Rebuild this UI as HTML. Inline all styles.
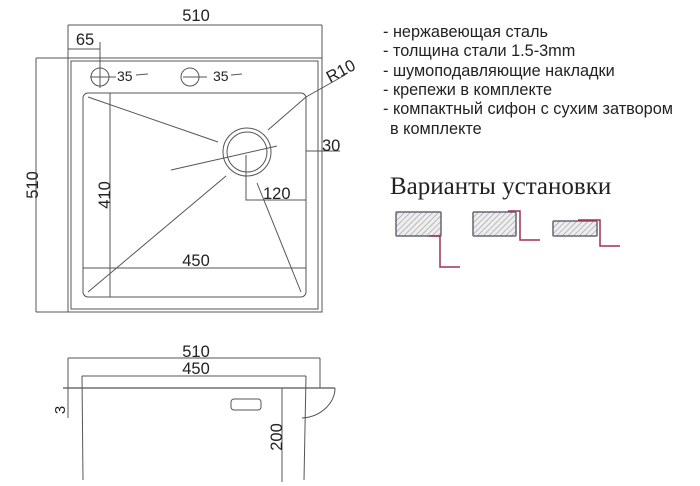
<!DOCTYPE html>
<html><head><meta charset="utf-8"><style>
html,body{margin:0;padding:0;background:#fff;}
svg{display:block}
</style></head><body>
<svg width="700" height="486" viewBox="0 0 700 486" xmlns="http://www.w3.org/2000/svg" font-family="Liberation Sans, sans-serif">
<g stroke="#555" stroke-width="1" fill="none">
<line x1="68" y1="25" x2="322" y2="25"/>
<line x1="68" y1="25" x2="68" y2="312"/>
<line x1="322" y1="25" x2="322" y2="312"/>
<line x1="36" y1="58" x2="36" y2="312"/>
<line x1="36" y1="58" x2="68" y2="58"/>
<line x1="36" y1="312" x2="68" y2="312"/>
<rect x="68" y="58" width="254" height="254"/>
<rect x="71" y="61" width="247" height="248"/>
<rect x="83" y="93" width="223" height="204" rx="5"/>
<line x1="68" y1="49" x2="100" y2="49"/>
<line x1="100" y1="42" x2="100" y2="88"/>
<circle cx="100" cy="77" r="9"/>
<circle cx="190" cy="77" r="9"/>
<line x1="90" y1="77" x2="116" y2="77"/>
<line x1="183" y1="77" x2="207" y2="77"/>
<line x1="136" y1="75" x2="148" y2="74"/>
<line x1="231" y1="75" x2="242" y2="74"/>
<line x1="110" y1="93" x2="110" y2="297"/>
<line x1="83" y1="268" x2="306" y2="268"/>
<circle cx="247" cy="152" r="24"/>
<circle cx="247" cy="152" r="20"/>
<line x1="88" y1="97" x2="218" y2="142"/>
<line x1="171" y1="170" x2="277" y2="146"/>
<line x1="88" y1="292" x2="226" y2="176"/>
<line x1="257" y1="183" x2="301" y2="292"/>
<polyline points="268,130 306,97 345,75"/>
<line x1="306" y1="151" x2="340" y2="151"/>
<polyline points="246,155 246,200 306,200"/>
<line x1="68" y1="358" x2="320" y2="358"/>
<line x1="68" y1="358" x2="68" y2="388"/>
<line x1="320" y1="358" x2="320" y2="388"/>
<line x1="82" y1="376" x2="306" y2="376"/>
<line x1="82" y1="376" x2="83" y2="480"/>
<line x1="306" y1="376" x2="304" y2="480"/>
<line x1="63" y1="388" x2="335" y2="388" stroke-width="1.3"/>
<line x1="282" y1="388" x2="282" y2="482"/>
<rect x="231" y="399" width="30" height="11" rx="3"/>
<path d="M335,388 C335,402 322,417 302,418"/>
<line x1="68" y1="373" x2="68" y2="418"/>
</g>
<g fill="#222" font-size="16.5">
<text x="196" y="21" text-anchor="middle">510</text>
<text x="85" y="45" text-anchor="middle">65</text>
<text x="117" y="81" font-size="14">35</text>
<text x="213" y="81" font-size="14">35</text>
<text x="196" y="266" text-anchor="middle">450</text>
<text x="322" y="151">30</text>
<text x="263" y="199">120</text>
<text transform="translate(330,83) rotate(-28)">R10</text>
<text transform="translate(38,185) rotate(-90)" text-anchor="middle">510</text>
<text transform="translate(110,195) rotate(-90)" text-anchor="middle">410</text>
<text x="196" y="357" text-anchor="middle">510</text>
<text x="196" y="374" text-anchor="middle">450</text>
<text transform="translate(65,410) rotate(-90)" text-anchor="middle" font-size="15">3</text>
<text transform="translate(282,437) rotate(-90)" text-anchor="middle">200</text>
</g>
<g fill="#222" font-size="16.3">
<text x="383" y="37">- нержавеющая сталь</text>
<text x="383" y="56">- толщина стали 1.5-3mm</text>
<text x="383" y="76">- шумоподавляющие накладки</text>
<text x="383" y="95">- крепежи в комплекте</text>
<text x="383" y="114">- компактный сифон с сухим затвором</text>
<text x="390" y="134">в комплекте</text>
</g>
<text x="390" y="194" font-family="Liberation Serif, serif" font-size="25" fill="#222">Варианты установки</text>
<defs><pattern id="h" width="4" height="4" patternUnits="userSpaceOnUse" patternTransform="rotate(45)"><rect width="4" height="4" fill="#eee"/><line x1="0" y1="0" x2="0" y2="4" stroke="#999" stroke-width="1.2"/></pattern></defs>
<g stroke="#667" stroke-width="1.5" fill="url(#h)">
<rect x="396" y="212" width="45" height="24" rx="1"/>
<rect x="473" y="212" width="43" height="24" rx="1"/>
<rect x="553" y="221" width="44" height="15" rx="1"/>
</g>
<g stroke="#a03050" stroke-width="1.5" fill="none">
<polyline points="429,236 440,236 440,267 460,267"/>
<polyline points="508,211 520,211 520,240 540,240"/>
<polyline points="578,220 600,220 600,246 620,246"/>
</g>
</svg>
</body></html>
